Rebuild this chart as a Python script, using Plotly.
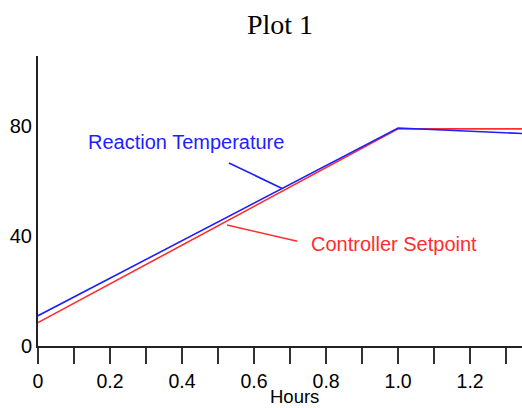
import plotly.graph_objects as go

hours = [0.0, 1.0, 1.344]
setpoint = [8.5, 79.0, 79.0]
hours_t = [0.0, 1.0, 1.344]
temperature = [11.0, 79.3, 77.3]

x_tickvals = [0, 0.2, 0.4, 0.6, 0.8, 1.0, 1.2]
x_ticktext = ["0", "0.2", "0.4", "0.6", "0.8", "1.0", "1.2"]
y_tickvals = [0, 40, 80]
x_title = "Hours"

BLUE = "rgb(30,30,255)"
RED = "rgb(255,45,45)"
FONT = "Liberation Sans, Arial, sans-serif"

fig = go.Figure()
fig.add_trace(go.Scatter(x=hours, y=setpoint, mode="lines",
                         line=dict(color=RED, width=1.6), showlegend=False))
fig.add_trace(go.Scatter(x=hours_t, y=temperature, mode="lines",
                         line=dict(color=BLUE, width=1.6), showlegend=False))

fig.update_layout(
    width=522, height=408,
    margin=dict(l=38, r=0, t=56, b=62),
    paper_bgcolor="white", plot_bgcolor="white",
    font=dict(family=FONT, size=19.5, color="black"),
    title=dict(text="Plot 1", x=0.5, xref="paper", xanchor="center",
               y=1 - 24 / 408, yref="container", yanchor="middle",
               font=dict(family="Liberation Serif, Times New Roman, serif", size=28, color="black")),
    xaxis=dict(range=[0, 1.344], showgrid=False, zeroline=False, automargin=False,
               showline=True, linecolor="#222", linewidth=2,
               tickvals=x_tickvals, ticktext=x_ticktext,
               ticks="outside", ticklen=16, tickwidth=1.5, tickcolor="#333",
               minor=dict(dtick=0.1, ticks="outside", ticklen=16, tickwidth=1.5, tickcolor="#333"),
               tickfont=dict(size=19.5), ticklabelstandoff=1),
    yaxis=dict(range=[0, 105.5], showgrid=False, zeroline=False, automargin=False,
               showline=True, linecolor="#222", linewidth=2,
               tickvals=y_tickvals, ticks="", ticklabelstandoff=0,
               tickfont=dict(size=20)),
    annotations=[
        dict(text="Reaction Temperature", x=0.678, y=57.3, xref="x", yref="y",
             showarrow=True, arrowhead=0, arrowwidth=1.6, arrowcolor=BLUE,
             ax=-96, ay=-46, borderpad=9,
             font=dict(family=FONT, size=20, color=BLUE)),
        dict(text="Controller Setpoint", x=0.525, y=44.0, xref="x", yref="y",
             showarrow=True, arrowhead=0, arrowwidth=1.6, arrowcolor=RED,
             ax=82, ay=19, xanchor="left", yanchor="middle", startstandoff=12,
             font=dict(family=FONT, size=20, color=RED)),
        dict(text=x_title, x=0.711, xref="x", y=-62 / 290, yref="paper",
             showarrow=False, xanchor="center", yanchor="bottom", borderpad=0,
             font=dict(family=FONT, size=18.5, color="black")),
    ],
)

fig.write_html("out.html", config={"displayModeBar": False},
               post_script="document.body.style.margin='0';document.body.style.overflow='hidden';")
